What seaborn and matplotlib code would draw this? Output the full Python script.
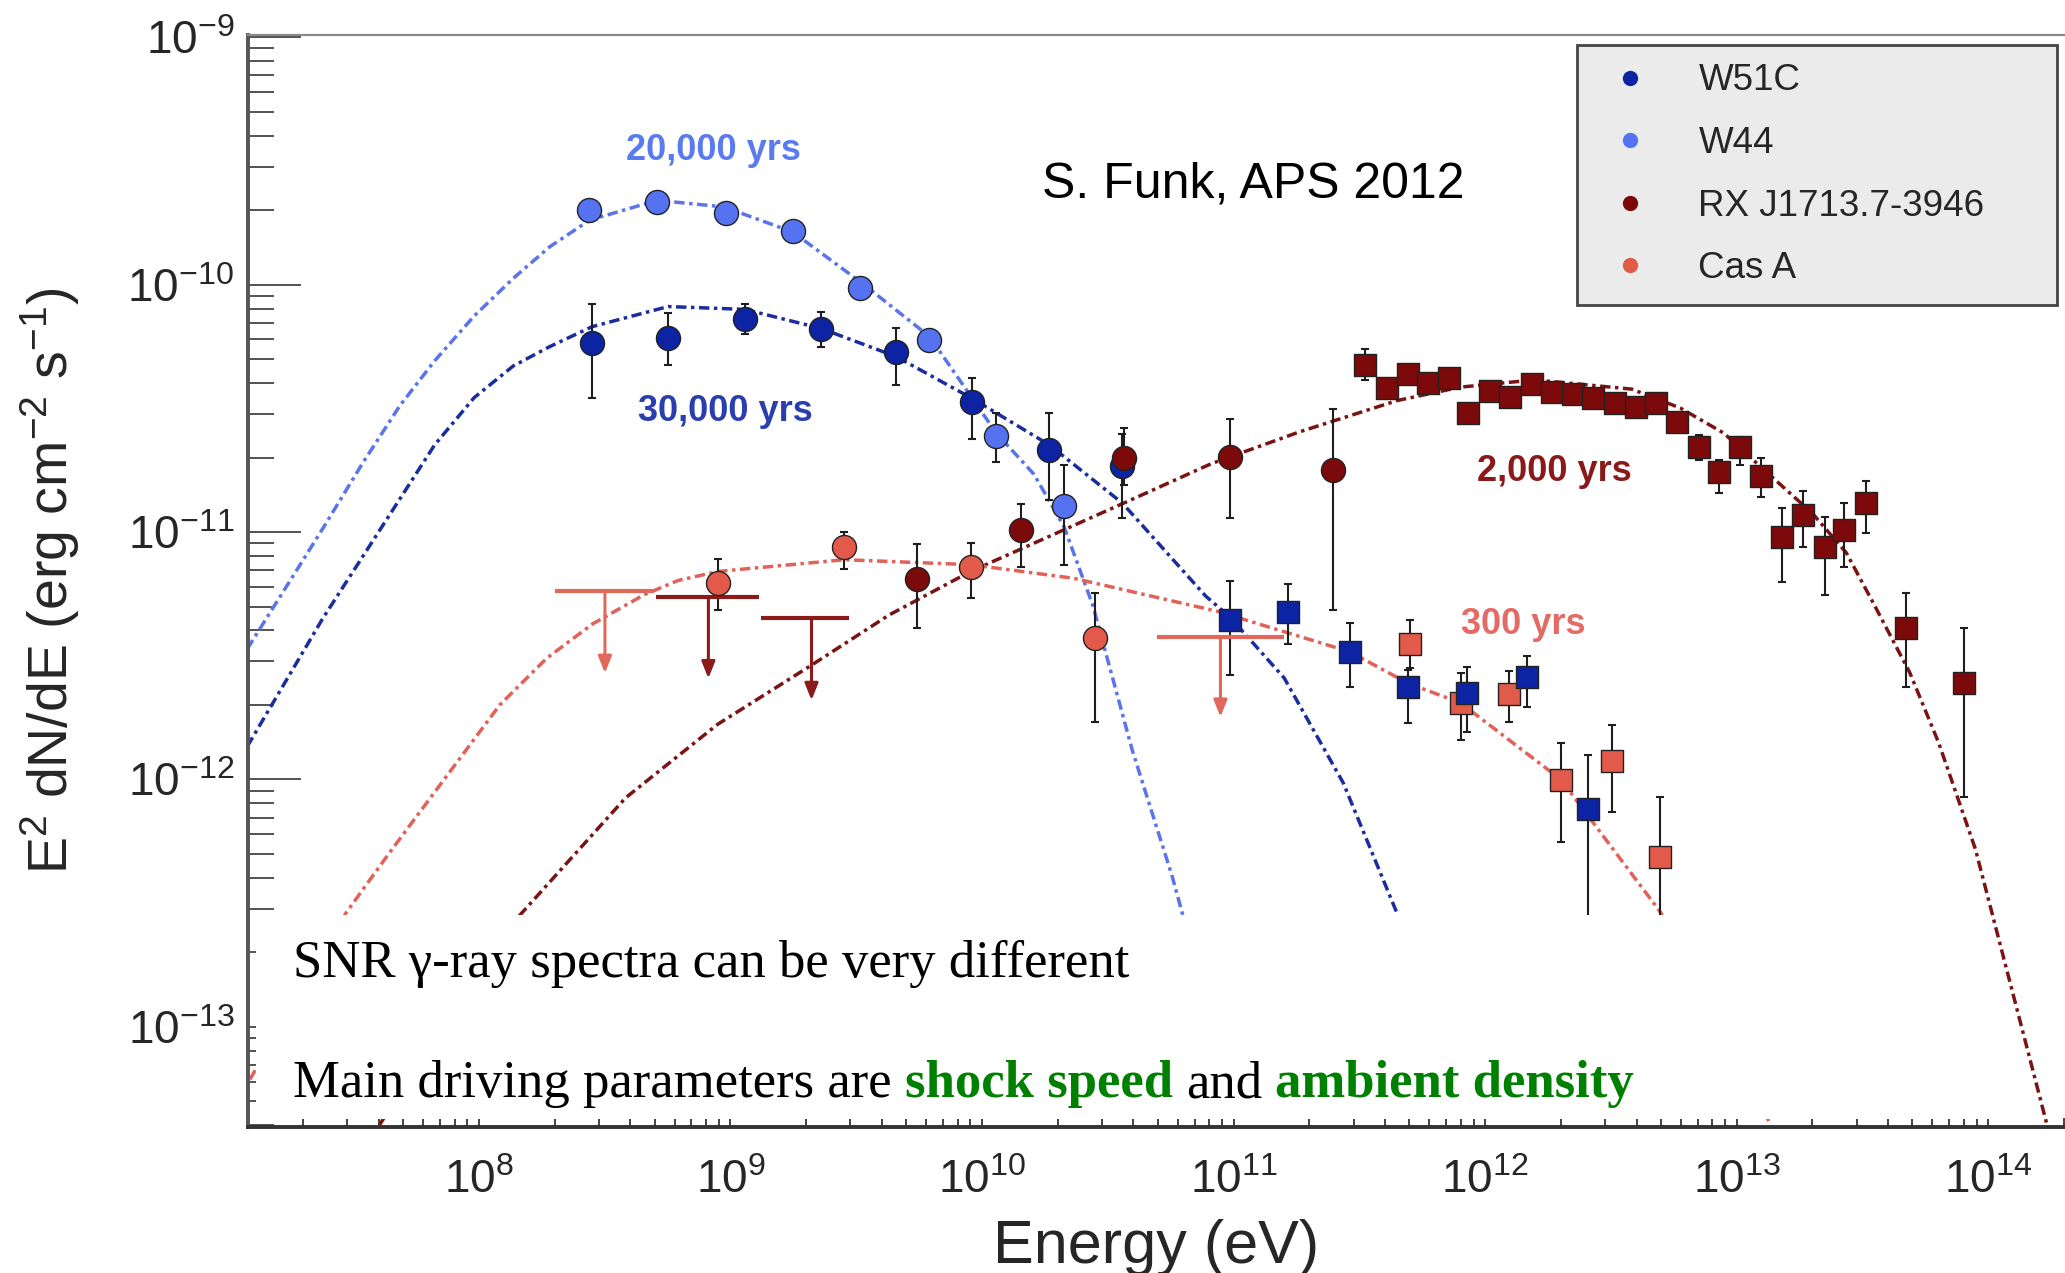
import numpy as np
import matplotlib
matplotlib.use("Agg")
import matplotlib.pyplot as plt
import seaborn as sns
from matplotlib.lines import Line2D
from matplotlib.patches import Rectangle
from matplotlib.ticker import LogLocator, NullFormatter

# ---------------- data ----------------
# W44 (Fermi points)
w44_E = [2.74e8, 5.11e8, 9.62e8, 1.78e9, 3.28e9, 6.18e9, 1.14e10, 2.11e10]
w44_F = [2.00e-10, 2.16e-10, 1.94e-10, 1.64e-10, 9.66e-11, 5.97e-11, 2.44e-11, 1.27e-11]
w44_hi = [2.00e-10, 2.16e-10, 1.94e-10, 1.64e-10, 9.66e-11, 5.97e-11, 3.03e-11, 1.87e-11]
w44_lo = [2.00e-10, 2.16e-10, 1.94e-10, 1.64e-10, 9.66e-11, 5.97e-11, 1.92e-11, 7.35e-12]

# W51C (Fermi circles)
w51c_E = [2.82e8, 5.66e8, 1.14e9, 2.29e9, 4.55e9, 9.12e9, 1.85e10, 3.61e10]
w51c_F = [5.82e-11, 6.07e-11, 7.23e-11, 6.60e-11, 5.35e-11, 3.34e-11, 2.14e-11, 1.84e-11]
w51c_hi = [8.34e-11, 7.65e-11, 8.34e-11, 7.77e-11, 6.65e-11, 4.20e-11, 3.02e-11, 2.50e-11]
w51c_lo = [3.47e-11, 4.73e-11, 6.31e-11, 5.57e-11, 3.93e-11, 2.37e-11, 1.35e-11, 1.14e-11]
# W51C (MAGIC squares)
w51c_sq_E = [9.64e10, 1.65e11, 2.90e11, 4.94e11, 8.47e11, 1.47e12, 2.57e12]
w51c_sq_F = [4.41e-12, 4.76e-12, 3.28e-12, 2.37e-12, 2.24e-12, 2.60e-12, 7.59e-13]
w51c_sq_hi = [6.35e-12, 6.15e-12, 4.28e-12, 2.77e-12, 2.86e-12, 3.16e-12, 1.26e-12]
w51c_sq_lo = [2.64e-12, 3.52e-12, 2.37e-12, 1.69e-12, 1.55e-12, 1.96e-12, 1.0e-13]

# RX J1713.7-3946 (Fermi circles)
rx_E = [5.53e9, 1.43e10, 3.66e10, 9.64e10, 2.49e11]
rx_F = [6.44e-12, 1.02e-11, 2.00e-11, 2.01e-11, 1.78e-11]
rx_hi = [8.91e-12, 1.30e-11, 2.64e-11, 2.85e-11, 3.13e-11]
rx_lo = [4.08e-12, 7.24e-12, 1.55e-11, 1.14e-11, 4.84e-12]
# RX J1713.7-3946 (H.E.S.S. squares)
rx_sq_E = [3.33e11, 4.07e11, 4.95e11, 5.93e11, 7.18e11, 8.59e11, 1.05e12, 1.26e12, 1.53e12,
           1.85e12, 2.24e12, 2.68e12, 3.27e12, 3.97e12, 4.79e12, 5.81e12, 7.10e12, 8.47e12,
           1.03e13, 1.25e13, 1.52e13, 1.83e13, 2.24e13, 2.67e13, 3.27e13, 4.72e13, 8.05e13]
rx_sq_F = [4.73e-11, 3.81e-11, 4.35e-11, 3.99e-11, 4.18e-11, 3.03e-11, 3.72e-11, 3.52e-11, 3.96e-11,
           3.69e-11, 3.61e-11, 3.47e-11, 3.33e-11, 3.19e-11, 3.31e-11, 2.79e-11, 2.21e-11, 1.74e-11,
           2.21e-11, 1.68e-11, 9.53e-12, 1.17e-11, 8.73e-12, 1.02e-11, 1.31e-11, 4.08e-12, 2.46e-12]
rx_sq_hi = [5.47e-11, 4.12e-11, 4.70e-11, 4.31e-11, 4.51e-11, 3.27e-11, 4.02e-11, 3.80e-11, 4.28e-11,
            3.99e-11, 3.90e-11, 3.75e-11, 3.60e-11, 3.45e-11, 3.57e-11, 3.01e-11, 2.47e-11, 1.95e-11,
            2.43e-11, 1.99e-11, 1.25e-11, 1.46e-11, 1.15e-11, 1.31e-11, 1.61e-11, 5.65e-12, 4.08e-12]
rx_sq_lo = [4.11e-11, 3.53e-11, 4.03e-11, 3.69e-11, 3.87e-11, 2.81e-11, 3.44e-11, 3.26e-11, 3.67e-11,
            3.42e-11, 3.34e-11, 3.21e-11, 3.08e-11, 2.95e-11, 3.06e-11, 2.58e-11, 1.95e-11, 1.44e-11,
            1.87e-11, 1.39e-11, 6.30e-12, 8.73e-12, 5.56e-12, 7.24e-12, 9.89e-12, 2.37e-12, 8.49e-13]

# Cas A (Fermi circles)
casa_E = [8.93e8, 2.84e9, 9.02e9, 2.82e10]
casa_F = [6.24e-12, 8.67e-12, 7.24e-12, 3.72e-12]
casa_hi = [7.76e-12, 1.00e-11, 8.99e-12, 5.65e-12]
casa_lo = [4.84e-12, 7.06e-12, 5.40e-12, 1.71e-12]
# Cas A (VERITAS/MAGIC squares)
casa_sq_E = [5.05e11, 8.00e11, 1.25e12, 2.00e12, 3.20e12, 4.98e12]
casa_sq_F = [3.52e-12, 2.03e-12, 2.21e-12, 9.95e-13, 1.19e-12, 4.88e-13]
casa_sq_hi = [4.41e-12, 2.69e-12, 2.75e-12, 1.41e-12, 1.66e-12, 8.53e-13]
casa_sq_lo = [2.82e-12, 1.45e-12, 1.71e-12, 5.61e-13, 7.41e-13, 1.0e-13]

# Upper limits: [E_low, E_high, E_arrow, flux, arrow end]
ul_series = ["Cas A", "RX J1713.7-3946", "RX J1713.7-3946", "Cas A"]
ul_Elo = [2.00e8, 5.06e8, 1.32e9, 4.98e10]
ul_Ehi = [4.95e8, 1.30e9, 2.96e9, 1.58e11]
ul_Ec = [3.17e8, 8.17e8, 2.10e9, 8.87e10]
ul_F = [5.79e-12, 5.44e-12, 4.48e-12, 3.78e-12]
ul_Fend = [2.69e-12, 2.56e-12, 2.09e-12, 1.79e-12]

# Model curves
w44_curve_E = [1.20e7, 2.42e7, 3.44e7, 4.85e7, 6.67e7, 9.57e7, 1.37e8, 1.91e8, 2.75e8, 5.11e8,
               9.42e8, 1.77e9, 3.35e9, 6.18e9, 1.14e10, 1.61e10, 2.12e10, 2.76e10, 3.96e10,
               5.69e10, 6.82e10, 8.69e10]
w44_curve_F = [3.37e-12, 1.05e-11, 1.89e-11, 3.24e-11, 4.92e-11, 7.46e-11, 1.06e-10, 1.42e-10, 1.82e-10,
               2.19e-10, 2.06e-10, 1.63e-10, 1.01e-10, 6.17e-11, 2.51e-11, 1.71e-11, 1.05e-11, 5.04e-12,
               1.31e-12, 4.09e-13, 2.09e-13, 7.83e-14]
w51c_curve_E = [1.20e7, 2.39e7, 4.85e7, 6.67e7, 9.57e7, 1.37e8, 1.91e8, 2.82e8, 5.65e8, 1.14e9,
                2.29e9, 4.55e9, 9.12e9, 1.85e10, 3.61e10, 7.76e10, 9.64e10, 1.59e11, 2.73e11,
                4.46e11, 5.97e11]
w51c_curve_F = [1.36e-12, 4.46e-12, 1.36e-11, 2.25e-11, 3.49e-11, 4.69e-11, 5.61e-11, 6.76e-11, 8.15e-11,
                7.94e-11, 6.65e-11, 5.12e-11, 3.47e-11, 2.25e-11, 1.31e-11, 5.50e-12, 4.55e-12, 2.57e-12,
                9.68e-13, 2.89e-13, 1.00e-13]
rx_curve_E = [4.02e7, 7.52e7, 1.46e8, 3.83e8, 8.89e8, 2.07e9, 4.27e9, 8.99e9, 3.73e10, 8.17e10,
              1.83e11, 4.48e11, 7.98e11, 1.57e12, 3.83e12, 5.97e12, 8.89e12, 1.32e13, 2.00e13,
              2.73e13, 3.56e13, 4.88e13, 6.35e13, 8.89e13, 1.71e14]
rx_curve_F = [4.0e-14, 1.13e-13, 2.84e-13, 8.43e-13, 1.67e-12, 2.87e-12, 4.62e-12, 6.92e-12, 1.32e-11,
              1.89e-11, 2.54e-11, 3.40e-11, 3.85e-11, 4.12e-11, 3.78e-11, 3.17e-11, 2.51e-11, 1.74e-11,
              1.19e-11, 8.24e-12, 4.98e-12, 2.70e-12, 1.41e-12, 5.24e-13, 4.05e-14]
casa_curve_E = [1.23e7, 2.97e7, 4.50e7, 1.21e8, 1.86e8, 2.83e8, 4.51e8, 6.19e8, 8.93e8, 2.84e9,
                8.99e9, 2.32e10, 8.63e10, 2.90e11, 4.93e11, 7.98e11, 2.00e12, 2.57e12, 4.99e12,
                1.37e13]
casa_curve_F = [6.14e-14, 2.90e-13, 5.20e-13, 2.00e-12, 3.09e-12, 4.25e-12, 5.56e-12, 6.37e-12, 6.93e-12,
                7.73e-12, 7.38e-12, 6.50e-12, 4.78e-12, 3.28e-12, 2.45e-12, 2.04e-12, 1.00e-12, 7.11e-13,
                2.90e-13, 4.0e-14]

legend_labels = ["W51C", "W44", "RX J1713.7-3946", "Cas A"]
age_labels = ["20,000 yrs", "30,000 yrs", "2,000 yrs", "300 yrs"]
age_E = [8.59e8, 9.51e8, 1.88e12, 1.42e12]
age_F = [3.47e-10, 3.08e-11, 1.75e-11, 4.21e-12]

x_ticks = [1e8, 1e9, 1e10, 1e11, 1e12, 1e13, 1e14]
x_ticklabels = [r"$10^{8}$", r"$10^{9}$", r"$10^{10}$", r"$10^{11}$", r"$10^{12}$", r"$10^{13}$", r"$10^{14}$"]
y_ticks = [1e-13, 1e-12, 1e-11, 1e-10, 1e-9]
y_ticklabels = [r"$10^{-13}$", r"$10^{-12}$", r"$10^{-11}$", r"$10^{-10}$", r"$10^{-9}$"]

# ---------------- style ----------------
sns.set_style("white")
plt.rcParams["font.family"] = ["Liberation Sans", "DejaVu Sans"]
plt.rcParams["mathtext.fontset"] = "custom"
plt.rcParams["mathtext.rm"] = "Liberation Sans"
plt.rcParams["mathtext.it"] = "Liberation Sans:italic"
plt.rcParams["mathtext.bf"] = "Liberation Sans:bold"

C_W51C = "#0c24a4"
C_W44 = "#5572f0"
C_RX = "#7c0a0a"
C_CASA = "#e25a4a"
CURVE_W51C = "#1b2d9c"
CURVE_W44 = "#5a74ea"
CURVE_RX = "#7a1414"
CURVE_CASA = "#e06258"

W, H = 2065, 1273
fig = plt.figure(figsize=(W / 100, H / 100), dpi=100)
ax_left, ax_right, ax_top, ax_bottom = 248, 2065, 35, 1127
ax = fig.add_axes([ax_left / W, 1 - ax_bottom / H, (ax_right - ax_left) / W, (ax_bottom - ax_top) / H])
ax.set_xscale("log")
ax.set_yscale("log")

dash = (0, (3.0, 1.3, 1.0, 1.3))
for xe, ye, c in [(w44_curve_E, w44_curve_F, CURVE_W44), (w51c_curve_E, w51c_curve_F, CURVE_W51C),
                  (rx_curve_E, rx_curve_F, CURVE_RX), (casa_curve_E, casa_curve_F, CURVE_CASA)]:
    sns.lineplot(x=xe, y=ye, ax=ax, color=c, linewidth=2.5, linestyle=dash, sort=False,
                 estimator=None, legend=False, zorder=2)

# error bars
def ebar(E, F, lo, hi):
    F = np.asarray(F); lo = np.asarray(lo); hi = np.asarray(hi)
    ax.errorbar(E, F, yerr=[F - lo, hi - F], fmt="none", ecolor="#1e1e1e",
                elinewidth=1.5, capsize=3, capthick=1.5, zorder=3)

for E, F, lo, hi in [(w44_E, w44_F, w44_lo, w44_hi), (w51c_E, w51c_F, w51c_lo, w51c_hi),
                     (w51c_sq_E, w51c_sq_F, w51c_sq_lo, w51c_sq_hi), (rx_E, rx_F, rx_lo, rx_hi),
                     (rx_sq_E, rx_sq_F, rx_sq_lo, rx_sq_hi), (casa_E, casa_F, casa_lo, casa_hi),
                     (casa_sq_E, casa_sq_F, casa_sq_lo, casa_sq_hi)]:
    ebar(E, F, lo, hi)

# upper limits
ul_colors = {"Cas A": "#e2685c", "RX J1713.7-3946": "#8b1a1a"}
for s, elo, ehi, ec, f, fend in zip(ul_series, ul_Elo, ul_Ehi, ul_Ec, ul_F, ul_Fend):
    c = ul_colors[s]
    ax.plot([elo, ehi], [f, f], color=c, lw=3, zorder=3, solid_capstyle="butt")
    ax.annotate("", xy=(ec, fend), xytext=(ec, f),
                arrowprops=dict(arrowstyle="-|>,head_width=0.4,head_length=1.0", color=c,
                                lw=2.2, shrinkA=0, shrinkB=0), zorder=3)

# markers
circ_s, sq_s = 300, 270
sns.scatterplot(x=w44_E, y=w44_F, ax=ax, marker="o", s=circ_s, color=C_W44, edgecolor="#222", linewidth=1, zorder=4, legend=False)
sns.scatterplot(x=w51c_E, y=w51c_F, ax=ax, marker="o", s=circ_s, color=C_W51C, edgecolor="#222", linewidth=1, zorder=4, legend=False)
sns.scatterplot(x=rx_E, y=rx_F, ax=ax, marker="o", s=circ_s, color=C_RX, edgecolor="#222", linewidth=1, zorder=4, legend=False)
sns.scatterplot(x=casa_E, y=casa_F, ax=ax, marker="o", s=circ_s, color=C_CASA, edgecolor="#222", linewidth=1, zorder=4, legend=False)
sns.scatterplot(x=rx_sq_E, y=rx_sq_F, ax=ax, marker="s", s=sq_s, color=C_RX, edgecolor="#222", linewidth=1, zorder=4, legend=False)
sns.scatterplot(x=casa_sq_E, y=casa_sq_F, ax=ax, marker="s", s=sq_s, color=C_CASA, edgecolor="#222", linewidth=1, zorder=4, legend=False)
sns.scatterplot(x=w51c_sq_E, y=w51c_sq_F, ax=ax, marker="s", s=sq_s, color=C_W51C, edgecolor="#222", linewidth=1, zorder=4, legend=False)

# age annotations
age_colors = ["#5a7bef", "#2a3fae", "#8a1a1a", "#e46a66"]
for t, e, f, c in zip(age_labels, age_E, age_F, age_colors):
    ax.text(e, f, t, color=c, fontsize=26, fontweight="bold", ha="center", va="center", zorder=5)

# axes limits / ticks
ax.set_xlim(1.208e7, 2.02e14)
ax.set_ylim(3.94e-14, 1.02e-9)
ax.set_xticks(x_ticks, x_ticklabels)
ax.set_yticks(y_ticks, y_ticklabels)
ax.xaxis.set_minor_locator(LogLocator(base=10, subs=np.arange(2, 10), numticks=100))
ax.yaxis.set_minor_locator(LogLocator(base=10, subs=np.arange(2, 10), numticks=100))
ax.xaxis.set_minor_formatter(NullFormatter())
ax.yaxis.set_minor_formatter(NullFormatter())
ax.tick_params(axis="y", which="major", direction="in", length=38, width=1.3, color="#444",
               labelsize=33, pad=10, left=True, right=False)
ax.tick_params(axis="y", which="minor", direction="in", length=19, width=1.3, color="#444", left=True, right=False)
ax.tick_params(axis="x", which="both", direction="in", length=6.5, width=1.3, color="#333",
               labelsize=33, pad=23, bottom=True, top=False)

for side, col, lw in [("left", "#555555", 2.8), ("bottom", "#333333", 2.8), ("top", "#8a8a8a", 1.6)]:
    ax.spines[side].set_color(col)
    ax.spines[side].set_linewidth(lw)
ax.spines["right"].set_visible(False)

ax.set_xlabel("Energy (eV)", fontsize=44)
ax.set_ylabel(r"E$^2$ dN/dE (erg cm$^{-2}$ s$^{-1}$)", fontsize=40)
ax.xaxis.set_label_coords(0.5, -0.084)
ax.yaxis.set_label_coords(-0.0914, 0.5)

# legend
handles = [Line2D([], [], marker="o", ls="none", color=c, markersize=11, markeredgewidth=0)
           for c in [C_W51C, C_W44, C_RX, C_CASA]]
leg = ax.legend(handles, legend_labels, loc="upper left",
                bbox_to_anchor=(0.7314, 0.7527, 0.2642, 0.2381), mode="expand",
                fontsize=26.5, frameon=True, fancybox=False, edgecolor="#444444",
                facecolor="#ebebeb", framealpha=1, borderpad=0.5, labelspacing=0.75,
                handlelength=1.9, handletextpad=0.9, borderaxespad=0)
leg.get_frame().set_linewidth(2)

# credit
ax.text(1042 / W, 1 - 197.5 / H, "S. Funk, APS 2012", transform=fig.transFigure,
        fontsize=36, ha="left", va="baseline", color="black", zorder=6)

# white text box
box = Rectangle((256 / W, 1 - 1119 / H), (1990 - 256) / W, (1119 - 915) / H,
                transform=fig.transFigure, facecolor="white", edgecolor="none",
                zorder=10, clip_on=False)
ax.add_patch(box)
serif = ["Liberation Serif", "DejaVu Serif"]
ax.text(293 / W, 1 - 977 / H, "SNR γ-ray spectra can be very different", transform=fig.transFigure,
        fontsize=38, family=serif, ha="left", va="baseline", color="black", zorder=11)
base = 1 - 1097 / H
t1 = ax.text(293 / W, base, "Main driving parameters are", transform=fig.transFigure,
             fontsize=38, family=serif, ha="left", va="baseline", color="black", zorder=11)
prev = t1
for txt, col, wt in [("shock speed", "#008000", "bold"), ("and", "black", "normal"),
                     ("ambient density", "#008000", "bold")]:
    prev = ax.annotate(txt, xy=(1, base), xycoords=(prev, "figure fraction"),
                       xytext=(9.5, 0), textcoords="offset points", fontsize=38, family=serif,
                       fontweight=wt, color=col, ha="left", va="baseline", zorder=11)

fig.savefig("out.png", dpi=100)
